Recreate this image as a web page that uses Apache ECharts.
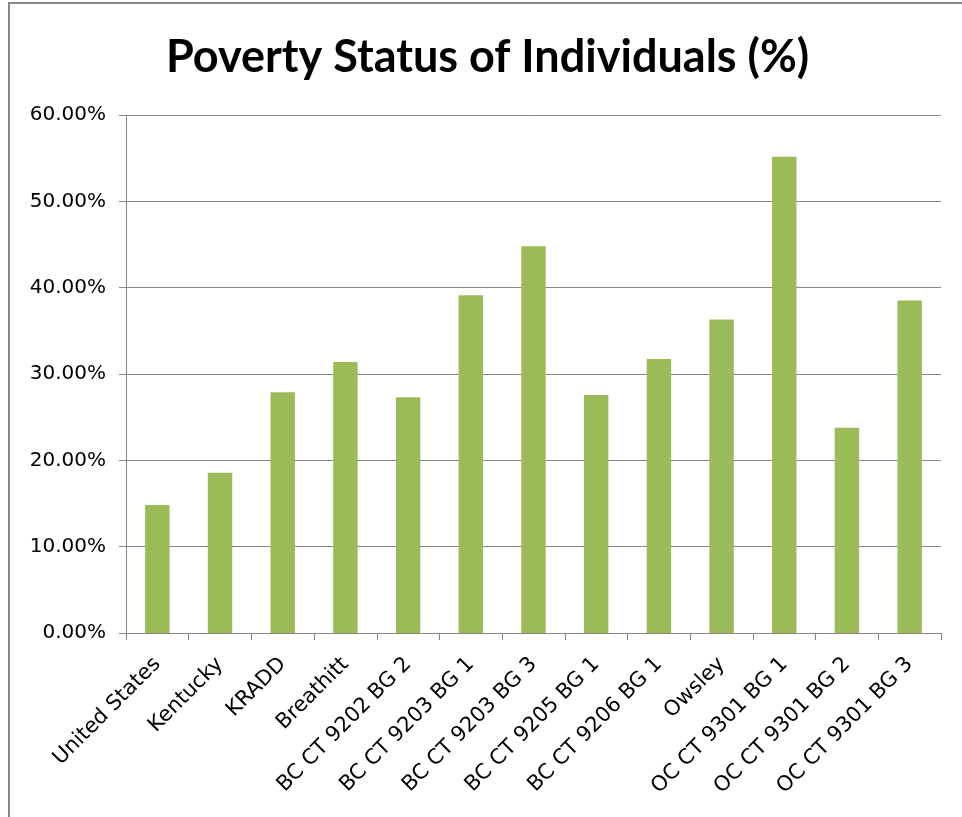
<!DOCTYPE html>
<html>
<head>
<meta charset="utf-8">
<script src="https://cdn.jsdelivr.net/npm/echarts@6/dist/echarts.min.js"></script>
<style>html,body{margin:0;padding:0;background:#fff;}#c{width:962px;height:817px;}</style>
</head>
<body>
<div id="c"></div>
<script>
const title = 'Poverty Status of Individuals (%)';
const categories = ['United States','Kentucky','KRADD','Breathitt','BC CT 9202 BG 2','BC CT 9203 BG 1','BC CT 9203 BG 3','BC CT 9205 BG 1','BC CT 9206 BG 1','Owsley','OC CT 9301 BG 1','OC CT 9301 BG 2','OC CT 9301 BG 3'];
const values = [14.83,18.55,27.89,31.40,27.31,39.13,44.79,27.56,31.74,36.32,55.17,23.76,38.51];
const yMin = 0, yMax = 60, yStep = 10;

const titleFont = 'Lato, "Open Sans", sans-serif';
const font = '"DejaVu Sans", "Open Sans", sans-serif';
const chart = echarts.init(document.getElementById('c'), null, {renderer:'canvas'});
chart.setOption({
  animation:false,
  backgroundColor:'#fff',
  graphic:[{type:'rect',shape:{x:9,y:3,width:970,height:830},style:{fill:'none',stroke:'#878787',lineWidth:2},silent:true}],
  title:{text:title,left:161,top:30,textStyle:{fontFamily:titleFont,fontSize:45,fontWeight:'bold',color:'#000'}},
  grid:{left:126,right:21,top:115,bottom:184},
  xAxis:{type:'category',data:categories,
    axisLine:{lineStyle:{color:'#868686',width:1}},
    axisTick:{show:true,alignWithLabel:false,length:7,lineStyle:{color:'#868686'}},
    axisLabel:{interval:0,rotate:45,fontFamily:font,fontSize:21,color:'#000',margin:28}},
  yAxis:{type:'value',min:yMin,max:yMax,interval:yStep,
    axisLine:{show:true,lineStyle:{color:'#868686',width:1}},
    axisTick:{show:true,length:7,lineStyle:{color:'#868686'}},
    splitLine:{lineStyle:{color:'#868686',width:1}},
    axisLabel:{fontFamily:font,fontSize:20,color:'#000',margin:20,formatter:v=>v.toFixed(2)+'%'}},
  series:[{type:'bar',data:values,barCategoryGap:'61%',itemStyle:{color:'#9BBB59'}}]
});
</script>
</body>
</html>
